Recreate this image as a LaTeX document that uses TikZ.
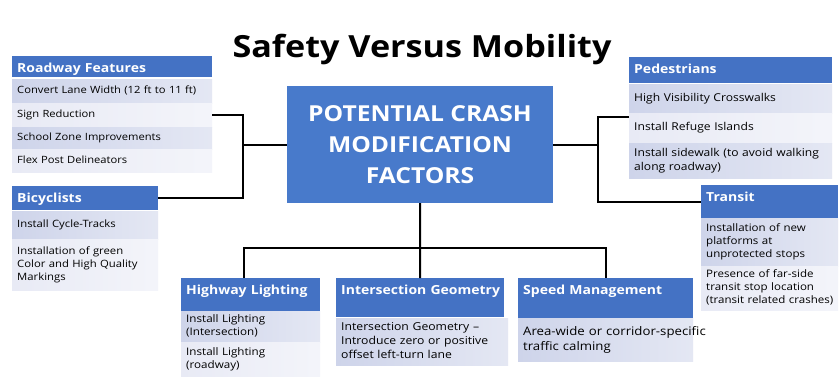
\documentclass[tikz,border=0pt]{standalone}
\usepackage{fontspec}
\setmainfont{Open Sans}[FakeStretch=1.12]
\definecolor{hdrblue}{RGB}{68,114,196}
\definecolor{cblue}{RGB}{72,122,203}
\definecolor{rowdark}{RGB}{206,212,234}
\definecolor{rowlight}{RGB}{232,234,245}
\tikzset{
  hdr/.style={fill=hdrblue, text=white, inner xsep=5pt, inner ysep=0pt, text height=16pt,
    align=left, font=\bfseries\fontsize{12.5}{15}\selectfont},
  rowbox/.style={inner xsep=5pt, inner ysep=0pt, align=left},
  darkrow/.style={left color=rowdark, right color=rowdark!55!white},
  lightrow/.style={left color=rowlight, right color=rowlight!50!white},
  conn/.style={draw=black, line width=2pt},
}
\newcommand\hdrbox[6]{%
  \pgfmathsetmacro\tw{#4-10}\pgfmathsetmacro\td{#5-16}%
  \node[hdr, text width=\tw pt, text depth=\td pt, anchor=north west] (#1) at (#2,#3) {\mbox{#6}};}
% name, x, y, w, h, style, fontsize, text
\newcommand\listrow[8]{%
  \pgfmathsetmacro\tw{#4-10}\pgfmathsetmacro\bl{1.27*#7}%
  \node[rowbox, #6, text width=\tw pt, minimum height=#5pt, anchor=north west,
    font=\fontsize{#7}{\bl}\selectfont] (#1) at (#2,#3)
    {\begin{tabular}{@{}l@{}}#8\end{tabular}};}
\begin{document}
\begin{tikzpicture}[x=1pt, y=-1pt]
\useasboundingbox[fill=white] (0,0) rectangle (839,376);

% title
\node[anchor=base, font=\bfseries\fontsize{30.5}{36}\selectfont] (title) at (422,57) {Safety Versus Mobility};

% central box
\node[fill=cblue, text=white, minimum width=266pt, minimum height=117pt, align=center,
  font=\bfseries\fontsize{22}{31}\selectfont] (cbox) at (420,144.5)
  {POTENTIAL CRASH\\MODIFICATION\\FACTORS};

% Roadway Features
\hdrbox{rf}{12}{56}{200}{21}{Roadway Features}
\listrow{rf1}{12}{79}{200}{24}{darkrow}{10}{Convert Lane Width (12 ft to 11 ft)}
\listrow{rf2}{12}{103}{200}{24}{lightrow}{10}{Sign Reduction}
\listrow{rf3}{12}{127}{200}{22}{darkrow}{10}{School Zone Improvements}
\listrow{rf4}{12}{149}{200}{23}{lightrow}{10}{Flex Post Delineators}

% Bicyclists
\hdrbox{bh}{12}{186}{146}{24}{Bicyclists}
\listrow{bc1}{12}{211}{146}{28}{darkrow}{10.1}{Install Cycle-Tracks}
\listrow{bc2}{12}{239}{146}{51}{lightrow}{10.1}{Installation of green\\Color and High Quality\\Markings}

% Pedestrians
\hdrbox{ph}{629}{57}{203}{26}{Pedestrians}
\listrow{pd1}{629}{84}{203}{29}{darkrow}{10.8}{High Visibility Crosswalks}
\listrow{pd2}{629}{113}{203}{30}{lightrow}{10.8}{Install Refuge Islands}
\listrow{pd3}{629}{143}{203}{35}{darkrow}{10.8}{Install sidewalk (to avoid walking\\along roadway)}

% Transit
\hdrbox{th}{701}{185}{137}{33}{Transit}
\listrow{tr1}{701}{218}{137}{48}{darkrow}{10.3}{Installation of new\\platforms at\\unprotected stops}
\listrow{tr2}{701}{266}{137}{44}{lightrow}{10.3}{Presence of far-side\\transit stop location\\(transit related crashes)}

% Highway Lighting
\hdrbox{hh}{181}{278}{139}{33}{Highway Lighting}
\listrow{hl1}{181}{311}{139}{31}{darkrow}{10.4}{Install Lighting\\(Intersection)}
\listrow{hl2}{181}{342}{139}{34}{lightrow}{10.4}{Install Lighting\\(roadway)}

% Intersection Geometry
\hdrbox{ih}{336}{278}{168}{39}{Intersection Geometry}
\listrow{ig1}{336}{318}{172}{47}{darkrow}{10.9}{Intersection Geometry –\\Introduce zero or positive\\offset left-turn lane}

% Speed Management
\hdrbox{sh}{518}{278}{175}{40}{Speed Management}
\listrow{sm1}{518}{318}{175}{43}{darkrow}{11.8}{Area-wide or corridor-specific\\traffic calming}

% connectors
\coordinate (lj) at (243,144.5);
\coordinate (rj) at (598,144.5);
\coordinate (bj) at (420,248);
\draw[conn] (cbox.west) -- (lj);
\draw[conn] (rf2.east) -| (lj) |- (bh.east);
\draw[conn] (cbox.east) -- (rj);
\draw[conn] ([yshift=-4pt]pd2.north west) -| (rj) |- (th.west);
\draw[conn] (cbox.south) -- (ih.north);
\draw[conn] ([xshift=-7pt]hh.north) |- (bj) -| (sh.north);
\end{tikzpicture}
\end{document}
